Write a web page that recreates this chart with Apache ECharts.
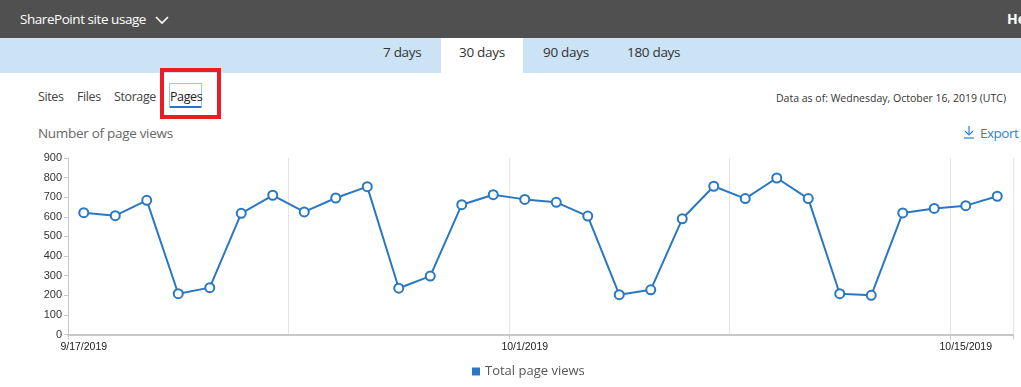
<!DOCTYPE html>
<html>
<head>
<meta charset="utf-8">
<script src="https://cdn.jsdelivr.net/npm/echarts@6/dist/echarts.min.js"></script>
<style>
  html, body { margin:0; padding:0; width:1021px; height:387px; overflow:hidden; background:#fff; font-family:"Open Sans","Noto Sans",sans-serif; }
  .abs { position:absolute; white-space:nowrap; }
  #hdr { position:absolute; left:0; top:0; width:1021px; height:38px; background:#505050; }
  #tabs { position:absolute; left:0; top:38px; width:1021px; height:35px; background:#cce2f5; }
  #active { position:absolute; left:441px; top:38px; width:82px; height:35px; background:#fff; }
  #chart { position:absolute; left:0; top:0; width:1021px; height:387px; }
</style>
</head>
<body>
<div id="hdr"></div>
<div class="abs" style="left:20px;top:10px;font-size:13.5px;letter-spacing:-0.45px;color:#fff;">SharePoint site usage</div>
<svg class="abs" style="left:155px;top:16px" width="14" height="9"><polyline points="1,1 7,7 13,1" fill="none" stroke="#fff" stroke-width="1.6"/></svg>
<div class="abs" style="left:1007px;top:9px;font-size:14px;font-weight:bold;color:#fff;">He</div>
<div id="tabs"></div>
<div id="active"></div>
<div class="abs" style="left:383px;top:43px;font-size:13.5px;letter-spacing:-0.3px;color:#333;">7 days</div>
<div class="abs" style="left:459px;top:43px;font-size:13.5px;letter-spacing:-0.3px;color:#333;">30 days</div>
<div class="abs" style="left:543px;top:43px;font-size:13.5px;letter-spacing:-0.3px;color:#333;">90 days</div>
<div class="abs" style="left:627px;top:43px;font-size:13.5px;letter-spacing:-0.3px;color:#333;">180 days</div>

<div class="abs" style="left:38px;top:88px;font-size:12.5px;letter-spacing:-0.4px;color:#444;">Sites</div>
<div class="abs" style="left:77px;top:88px;font-size:12.5px;letter-spacing:-0.4px;color:#444;">Files</div>
<div class="abs" style="left:114px;top:88px;font-size:12.5px;letter-spacing:-0.4px;color:#444;">Storage</div>
<div class="abs" style="left:169px;top:83px;width:31px;height:23px;border:1px solid #9cc3f5;"></div>
<div class="abs" style="left:170px;top:106px;width:31px;height:2px;background:#2b74c8;"></div>
<div class="abs" style="left:170px;top:88px;font-size:12.5px;letter-spacing:-0.4px;color:#222;">Pages</div>
<div class="abs" style="left:160px;top:68px;width:53px;height:43px;border:4px solid #ec1c24;"></div>

<div class="abs" style="left:776px;top:91px;font-size:10.5px;color:#333;">Data as of: Wednesday, October 16, 2019 (UTC)</div>
<div class="abs" style="left:38px;top:124px;font-size:13.5px;letter-spacing:-0.3px;color:#666;">Number of page views</div>
<svg class="abs" style="left:963px;top:125px" width="12" height="14"><line x1="6" y1="1" x2="6" y2="10" stroke="#2b84d6" stroke-width="1.2"/><polyline points="2,6 6,10 10,6" fill="none" stroke="#2b84d6" stroke-width="1.2"/><line x1="1" y1="13" x2="11" y2="13" stroke="#2b84d6" stroke-width="1.2"/></svg>
<div class="abs" style="left:980px;top:124px;font-size:13.5px;letter-spacing:-0.5px;color:#2b84d6;">Export</div>

<div id="chart"></div>
<script>
const dates = ["9/17/2019","9/18/2019","9/19/2019","9/20/2019","9/21/2019","9/22/2019","9/23/2019",
  "9/24/2019","9/25/2019","9/26/2019","9/27/2019","9/28/2019","9/29/2019","9/30/2019",
  "10/1/2019","10/2/2019","10/3/2019","10/4/2019","10/5/2019","10/6/2019","10/7/2019",
  "10/8/2019","10/9/2019","10/10/2019","10/11/2019","10/12/2019","10/13/2019","10/14/2019",
  "10/15/2019","10/16/2019"];
const pageViews = [621,606,684,208,239,618,710,625,696,754,236,298,662,713,689,674,604,203,228,590,756,693,798,693,208,200,620,643,657,705];
const yTicks = [0,100,200,300,400,500,600,700,800,900];

const chart = echarts.init(document.getElementById('chart'), null, {renderer:'canvas'});
chart.setOption({
  backgroundColor: 'transparent',
  animation: false,
  grid: { left: 68, right: 8, top: 158, bottom: 52.5, containLabel: false },
  legend: {
    data: [{ name: 'Total page views', icon: 'rect', itemStyle: { color: '#2a78c2', borderWidth: 0 } }],
    left: 472, top: 365, itemWidth: 8, itemHeight: 8, itemGap: 6, padding: 0,
    textStyle: { color: '#555', fontSize: 13, fontFamily: 'Open Sans' }
  },
  xAxis: {
    type: 'category', data: dates, boundaryGap: true,
    axisLine: { show: true, lineStyle: { color: '#c8c8c8', width: 2 } },
    axisTick: { show: true, interval: 13, length: 5, lineStyle: { color: '#c8c8c8' } },
    axisLabel: { interval: 13, color: '#222', fontSize: 10.5, fontFamily: 'Liberation Sans', margin: 7 },
    splitLine: { show: true, interval: 6, lineStyle: { color: '#e4e4e4', width: 1 } }
  },
  yAxis: {
    type: 'value', min: yTicks[0], max: yTicks[yTicks.length-1], interval: 100,
    axisLine: { show: true, lineStyle: { color: '#c8c8c8', width: 1 } },
    axisTick: { show: true, length: 4, lineStyle: { color: '#c8c8c8' } },
    axisLabel: { color: '#333', fontSize: 11, fontFamily: 'Liberation Sans', margin: 6 },
    splitLine: { show: false }
  },
  series: [{
    name: 'Total page views', type: 'line', data: pageViews,
    symbol: 'circle', symbolSize: 9, showAllSymbol: true,
    itemStyle: { color: '#fff', borderColor: '#2a78c2', borderWidth: 2 },
    lineStyle: { color: '#2a78c2', width: 2 },
    color: '#2a78c2'
  }]
});
</script>
</body>
</html>
